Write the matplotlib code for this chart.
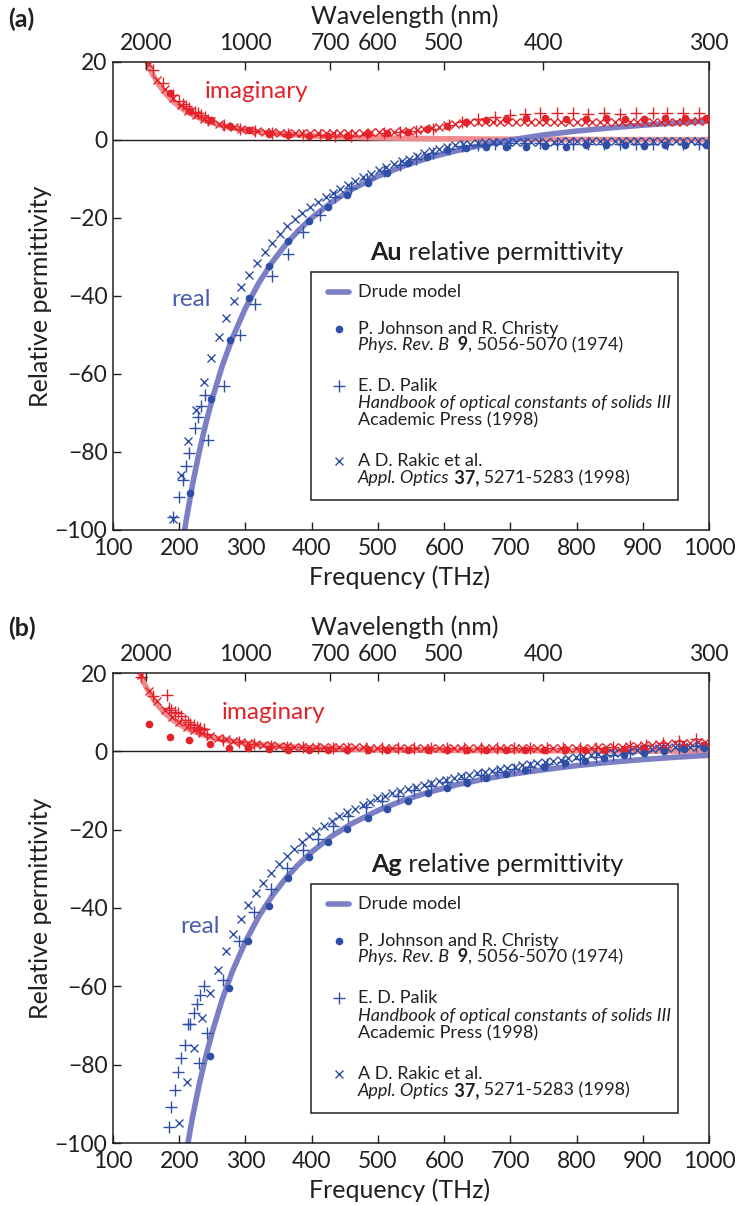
import matplotlib
matplotlib.use("Agg")
import matplotlib.pyplot as plt
import matplotlib.patches as patches

plt.rcParams['font.family'] = ['Lato', 'DejaVu Sans']

# -------------------------
# Data (frequency in THz, relative permittivity)
# -------------------------
drude_f = [140, 150, 160, 170, 180, 190, 200, 210, 220, 230, 240, 250, 265, 280, 300, 320, 340,
           360, 380, 400, 430, 460, 500, 540, 580, 620, 660, 700, 750, 800, 850, 900, 950, 1000]

# Au
au_drude_re = [-233, -201, -176, -155, -137, -122, -109, -98.0, -88.4, -80.1, -72.8, -66.3, -57.9,
               -50.9, -43.1, -36.7, -31.4, -27.0, -23.2, -20.0, -16.0, -12.7, -9.3, -6.6, -4.4,
               -2.7, -1.2, 0.0, 1.3, 2.3, 3.1, 3.8, 4.4, 4.9]
au_drude_im = [25.1, 20.4, 16.8, 14.0, 11.8, 10.0, 8.6, 7.4, 6.5, 5.7, 5.0, 4.4, 3.7, 3.1, 2.55,
               2.1, 1.75, 1.48, 1.26, 1.08, 0.87, 0.71, 0.55, 0.44, 0.35, 0.29, 0.24, 0.20, 0.16,
               0.13, 0.11, 0.09, 0.08, 0.07]

au_jc_f = [186, 216, 248, 277, 305, 336, 365, 396, 425, 454, 485, 514, 545, 574, 604, 633, 664,
           694, 723, 752, 784, 814, 844, 873, 902, 934, 964, 995]
au_jc_re = [-125, -90.4, -66.5, -51.2, -40.4, -32.3, -26.0, -20.8, -17.1, -14.0, -11.0, -8.4, -6.0,
            -4.3, -2.6, -2.0, -1.8, -1.8, -1.9, -1.6, -1.7, -1.4, -1.2, -1.2, -1.5, -1.2, -1.2, -1.4]
au_jc_im = [12.0, 7.5, 5.2, 3.6, 2.6, 1.6, 1.4, 1.0, 0.9, 0.9, 1.5, 1.9, 2.1, 2.7, 3.7, 4.6, 5.1,
            5.4, 5.6, 5.6, 5.4, 5.4, 5.6, 5.4, 5.4, 5.6, 5.6, 5.6]

au_pa_f = [160, 175, 190, 200, 205, 210, 215, 224, 229, 233, 239, 243, 267, 292, 315, 340, 365,
           387, 412, 435, 460, 484, 509, 534, 558, 583, 607, 627, 651, 677, 700, 722, 745, 770,
           795, 817, 842, 865, 890, 915, 937, 960, 985]
au_pa_re = [-140, -115, -96.7, -91.6, -87.3, -83.7, -80.2, -73.9, -71.0, -68.2, -65.4, -76.9, -63.0,
            -50.1, -42.0, -34.8, -29.3, -23.7, -19.2, -14.6, -12.2, -10.0, -8.0, -6.3, -4.8, -3.4,
            -2.3, -1.6, -1.2, -0.9, -0.8, -0.8, -0.8, -0.9, -0.9, -0.9, -0.9, -0.9, -0.9, -0.9,
            -0.9, -0.9, -0.9]
au_pa_im = [18.0, 14.5, 11.5, 10.0, 9.3, 8.7, 8.1, 7.2, 6.8, 6.4, 6.0, 5.2, 3.8, 2.8, 2.2, 1.8, 1.5,
            1.3, 1.2, 1.1, 1.1, 1.3, 1.7, 2.0, 2.3, 2.8, 3.8, 4.6, 5.3, 5.8, 6.4, 6.7, 6.9, 6.8,
            6.8, 6.7, 6.8, 6.7, 6.8, 6.8, 6.8, 6.8, 6.8]

au_rk_f = [154, 166, 178, 190, 202, 214, 226, 237, 248, 260, 271, 283, 294, 306, 317, 329, 340,
           352, 363, 375, 386, 397, 409, 421, 432, 443, 455, 466, 478, 490, 501, 513, 524, 536,
           547, 559, 570, 582, 593, 605, 616, 628, 639, 651, 662, 674, 685, 697, 708, 720, 731,
           743, 754, 766, 777, 789, 800, 812, 823, 835, 846, 858, 869, 881, 892, 904, 915, 927,
           938, 950, 961, 973, 984, 996]
au_rk_re = [-150, -125, -108, -97.1, -86.0, -77.1, -69.3, -62.0, -55.8, -50.4,
            -45.6, -41.4, -37.8, -34.5, -31.5, -28.8, -26.4, -24.2, -22.1, -20.3,
            -18.7, -17.2, -15.8, -14.6, -13.7, -12.6, -11.6, -10.6, -9.6, -8.7,
            -7.8, -7.0, -6.2, -5.5, -4.8, -4.1, -3.4, -2.8, -2.3, -1.8,
            -1.4, -1.1, -0.9, -0.7, -0.6, -0.5, -0.5, -0.5, -0.4, -0.4,
            -0.4, -0.4, -0.4, -0.4, -0.3, -0.3, -0.3, -0.3, -0.3, -0.3,
            -0.3, -0.3, -0.3, -0.3, -0.3, -0.3, -0.3, -0.3, -0.3, -0.3,
            -0.3, -0.3, -0.3, -0.3]
au_rk_im = [19.5, 15.5, 13.0, 10.8, 9.0, 7.5, 6.4, 5.5, 4.8, 4.2,
            3.7, 3.3, 2.9, 2.6, 2.3, 2.1, 2.0, 1.9, 1.9, 1.8,
            1.8, 1.8, 1.8, 1.8, 1.8, 1.8, 1.8, 1.9, 1.9, 2.0,
            2.0, 2.1, 2.1, 2.2, 2.3, 2.5, 2.7, 3.0, 3.4, 3.8,
            4.0, 4.3, 4.5, 4.6, 4.6, 4.6, 4.6, 4.6, 4.6, 4.6,
            4.6, 4.6, 4.6, 4.6, 4.6, 4.6, 4.6, 4.6, 4.6, 4.6,
            4.7, 4.7, 4.7, 4.7, 4.7, 4.7, 4.7, 4.7, 4.7, 4.7,
            4.7, 4.8, 4.8, 4.8]

# Ag
ag_drude_re = [-236, -205, -180, -159, -141.5, -126.6, -113.9, -103.0, -93.5, -85.2, -78.0, -71.6,
               -63.3, -56.3, -48.6, -42.2, -37.0, -32.6, -28.9, -25.7, -21.7, -18.5, -15.1, -12.4,
               -10.3, -8.5, -7.1, -5.9, -4.7, -3.65, -2.8, -2.1, -1.5, -1.0]
ag_drude_im = [20.2, 16.4, 13.6, 11.3, 9.5, 8.1, 6.9, 6.0, 5.2, 4.6, 4.0, 3.55, 2.98, 2.53, 2.06,
               1.69, 1.41, 1.19, 1.01, 0.87, 0.70, 0.57, 0.44, 0.35, 0.28, 0.23, 0.19, 0.16, 0.13,
               0.11, 0.09, 0.08, 0.06, 0.06]

ag_jc_f = [155, 186, 215, 246, 275, 304, 336, 364, 396, 425, 453, 485, 514, 545, 575, 604, 634,
           663, 694, 722, 751, 782, 812, 842, 872, 902, 932, 962, 993]
ag_jc_re = [-200, -135, -103, -77.7, -60.4, -48.5, -39.5, -32.4, -27.1, -23.1, -19.8, -17.0, -14.6,
            -12.6, -10.7, -9.3, -8.0, -6.7, -5.7, -4.8, -3.9, -3.1, -2.5, -1.6, -1.0, -0.4, 0.1,
            0.5, 0.9]
ag_jc_im = [6.9, 3.7, 2.9, 1.8, 0.9, 0.8, 0.5, 0.3, 0.3, 0.3, 0.3, 0.3, 0.3, 0.3, 0.3, 0.3, 0.3,
            0.3, 0.3, 0.3, 0.3, 0.3, 0.3, 0.3, 0.4, 0.5, 0.7, 1.0, 1.5]

ag_pa_f = [142, 160, 181, 184, 188, 193, 198, 202, 208, 213, 216, 222, 227, 230, 231, 237, 242,
           266, 290, 313, 338, 362, 387, 410, 432, 455, 482, 506, 530, 555, 580, 605, 630, 655,
           680, 705, 730, 755, 780, 805, 830, 855, 880, 905, 930, 955, 980]
ag_pa_re = [-230, -180, -115, -96.0, -90.9, -86.4, -81.8, -78.4, -75.0, -69.7,
            -69.7, -66.8, -64.4, -79.6, -62.3, -60.0, -71.8, -58.4, -48.5, -40.9,
            -35.1, -29.9, -25.2, -22.4, -19.0, -16.5, -14.3, -12.8, -11.3, -10.0,
            -8.9, -7.9, -7.0, -6.1, -5.3, -4.6, -3.9, -3.2, -2.6, -2.0,
            -1.4, -0.9, -0.4, 0.1, 0.5, 0.9, 1.3]
ag_pa_im = [19.0, 14.0, 14.5, 11.0, 10.5, 10.0, 9.7, 9.0, 8.0, 7.5,
            7.0, 6.7, 6.1, 5.5, 6.0, 5.8, 4.5, 3.0, 2.3, 1.8,
            1.4, 1.2, 1.0, 0.9, 0.8, 0.8, 0.8, 0.8, 0.8, 0.8,
            0.8, 0.8, 0.8, 0.8, 0.8, 0.8, 0.8, 0.8, 0.8, 0.8,
            0.9, 1.0, 1.3, 1.7, 2.1, 2.6, 3.2]

ag_rk_f = [143, 155, 166, 178, 189, 200, 212, 223, 235, 247, 258, 270, 281, 293, 304, 316, 327,
           339, 350, 362, 373, 385, 396, 407, 419, 431, 442, 454, 465, 477, 488, 499, 511, 522,
           534, 546, 557, 569, 580, 592, 603, 615, 626, 638, 649, 661, 672, 684, 695, 707, 718,
           730, 741, 753, 764, 776, 787, 799, 810, 822, 833, 845, 856, 868, 879, 891, 902, 914,
           925, 937, 948, 960, 971, 983, 994]
ag_rk_re = [-215, -180, -150, -127, -109, -95.0, -84.5, -75.7, -68.0, -61.7,
            -55.9, -51.0, -46.6, -42.7, -39.2, -36.2, -33.5, -31.1, -28.8, -26.8,
            -24.9, -23.2, -21.7, -20.3, -19.0, -17.7, -16.6, -15.6, -14.8, -13.7,
            -12.9, -12.0, -11.4, -10.7, -10.1, -9.5, -9.0, -8.5, -8.0, -7.6,
            -7.2, -6.8, -6.4, -6.0, -5.6, -5.3, -4.9, -4.6, -4.3, -3.9,
            -3.6, -3.3, -3.0, -2.7, -2.4, -2.1, -1.8, -1.5, -1.3, -1.0,
            -0.8, -0.5, -0.3, -0.1, 0.1, 0.3, 0.5, 0.6, 0.8, 0.9,
            1.0, 1.1, 1.2, 1.3, 1.4]
ag_rk_im = [19.5, 15.5, 12.8, 10.5, 8.8, 7.5, 6.3, 5.4, 4.6, 4.0,
            3.5, 3.1, 2.7, 2.4, 2.1, 1.9, 1.7, 1.5, 1.4, 1.3,
            1.2, 1.2, 1.1, 1.1, 1.0, 1.0, 1.0, 1.0, 1.0, 1.0,
            0.9, 0.9, 0.9, 0.9, 0.9, 0.9, 0.9, 0.9, 0.9, 0.9,
            0.9, 0.9, 0.9, 0.9, 0.9, 0.9, 0.9, 0.9, 0.9, 0.9,
            0.9, 0.9, 0.9, 0.9, 0.9, 0.9, 0.9, 0.9, 0.9, 0.9,
            1.0, 1.0, 1.1, 1.2, 1.3, 1.4, 1.5, 1.6, 1.8, 1.9,
            2.0, 2.1, 2.2, 2.3, 2.4]

wl_ticks = [2000, 1000, 700, 600, 500, 400, 300]  # nm
freq_ticks = [100, 200, 300, 400, 500, 600, 700, 800, 900, 1000]
eps_ticks = [-100, -80, -60, -40, -20, 0, 20]

C_NM_THZ = 299792.458

BLUE = '#2f4ea6'
RED = '#e42229'
DRUDE_RE = '#7b7fc4'
DRUDE_IM = '#f08c8e'
INK = '#231f20'


def mixed_line(ax, x, y, pieces, size):
    # pieces: list of (text, style, weight); each one starts where the last ended
    s, st, wt = pieces[0]
    t = ax.text(x, y, s, transform=ax.transAxes, ha='left', va='center', fontsize=size,
                style=st, weight=wt, color=INK)
    for s, st, wt in pieces[1:]:
        t = ax.annotate(s, xy=(1, 0), xycoords=t, ha='left', va='bottom', fontsize=size,
                        style=st, weight=wt, color=INK)


def draw_panel(ax, metal, dre, dim, jc, pa, rk, imag_xy, real_xy):
    ax.axhline(0, color=INK, lw=1.0, zorder=1)
    ax.plot(drude_f, dim, color=DRUDE_IM, lw=4, zorder=2, solid_capstyle='butt')
    ax.plot(drude_f, dre, color=DRUDE_RE, lw=4, zorder=2, solid_capstyle='butt')

    f, re, im = rk
    ax.plot(f, im, 'x', color=RED, ms=6, mew=1.0, zorder=3)
    ax.plot(f, re, 'x', color=BLUE, ms=6, mew=1.0, zorder=3)
    f, re, im = pa
    ax.plot(f, im, '+', color=RED, ms=8.5, mew=1.0, zorder=3)
    ax.plot(f, re, '+', color=BLUE, ms=8.5, mew=1.0, zorder=3)
    f, re, im = jc
    ax.plot(f, im, 'o', color=RED, ms=5.5, mew=0, zorder=4)
    ax.plot(f, re, 'o', color=BLUE, ms=5.5, mew=0, zorder=4)

    ax.set_xlim(100, 1000)
    ax.set_ylim(-100, 20)
    ax.set_xticks(freq_ticks)
    ax.set_yticks(eps_ticks)
    ax.tick_params(direction='in', length=6, width=1, labelsize=16.5, colors=INK,
                   top=False, right=False, pad=6)
    ax.tick_params(axis='y', pad=4)
    for s in ax.spines.values():
        s.set_linewidth(1.1)
        s.set_color(INK)

    top = ax.twiny()
    top.set_xlim(100, 1000)
    top.set_xticks([C_NM_THZ / w for w in wl_ticks])
    top.set_xticklabels([str(w) for w in wl_ticks])
    top.tick_params(direction='in', length=6, width=1, labelsize=16.5, colors=INK, pad=6)
    for s in top.spines.values():
        s.set_visible(False)

    ax.text(0.49, 1.098, 'Wavelength (nm)', transform=ax.transAxes, ha='center', va='center',
            fontsize=18, color=INK)
    ax.text(0.48, -0.10, 'Frequency (THz)', transform=ax.transAxes, ha='center', va='center',
            fontsize=18, color=INK)
    ax.text(-0.121, 0.5, 'Relative permittivity', transform=ax.transAxes, ha='center',
            va='center', rotation=90, fontsize=18, color=INK)

    ax.text(imag_xy[0], imag_xy[1], 'imaginary', color=RED, fontsize=17.5, ha='center',
            va='center')
    ax.text(real_xy[0], real_xy[1], 'real', color='#4a5db0', fontsize=17.5, ha='center',
            va='center')

    # title above the legend box: bold metal name + plain text
    ax.text(0.485, 0.592, metal, transform=ax.transAxes, ha='right', va='center', fontsize=18,
            weight='bold', color=INK)
    ax.text(0.485, 0.592, ' relative permittivity', transform=ax.transAxes, ha='left',
            va='center', fontsize=18, color=INK)

    # hand-made legend box
    ax.add_patch(patches.Rectangle((0.332, 0.064), 0.616, 0.487, transform=ax.transAxes,
                                   fill=False, ec=INK, lw=1.1, zorder=5))
    sx, tx = 0.379, 0.411
    ax.plot([0.361, 0.396], [0.509, 0.509], transform=ax.transAxes, color=DRUDE_RE, lw=4,
            solid_capstyle='round', zorder=5)
    ax.plot([sx], [0.429], 'o', transform=ax.transAxes, color=BLUE, ms=5.5, mew=0, zorder=5)
    ax.plot([sx], [0.308], '+', transform=ax.transAxes, color=BLUE, ms=8.5, mew=1.0, zorder=5)
    ax.plot([sx], [0.147], 'x', transform=ax.transAxes, color=BLUE, ms=6, mew=1.0, zorder=5)
    lkw = dict(transform=ax.transAxes, ha='left', va='center', fontsize=13, color=INK)
    ax.text(tx, 0.509, 'Drude model', **lkw)
    ax.text(tx, 0.429, 'P. Johnson and R. Christy', **lkw)
    mixed_line(ax, tx, 0.395, [('Phys. Rev. B', 'italic', 'normal'),
                               ('  9', 'normal', 'bold'),
                               (', 5056-5070 (1974)', 'normal', 'normal')], 13)
    ax.text(tx, 0.308, 'E. D. Palik', **lkw)
    ax.text(tx, 0.271, 'Handbook of optical constants of solids III', style='italic', **lkw)
    ax.text(tx, 0.234, 'Academic Press (1998)', **lkw)
    ax.text(tx, 0.147, 'A D. Rakic et al.', **lkw)
    mixed_line(ax, tx, 0.111, [('Appl. Optics', 'italic', 'normal'),
                               (' 37,', 'normal', 'bold'),
                               (' 5271-5283 (1998)', 'normal', 'normal')], 13)


fig = plt.figure(figsize=(7.41, 12.05), dpi=100)
ax_a = fig.add_axes([113 / 741, 1 - 530 / 1205, 596 / 741, 468 / 1205])
ax_b = fig.add_axes([113 / 741, 1 - 1143 / 1205, 596 / 741, 470 / 1205])

draw_panel(ax_a, 'Au', au_drude_re, au_drude_im,
           (au_jc_f, au_jc_re, au_jc_im), (au_pa_f, au_pa_re, au_pa_im),
           (au_rk_f, au_rk_re, au_rk_im), (316, 12.5), (218, -41))
draw_panel(ax_b, 'Ag', ag_drude_re, ag_drude_im,
           (ag_jc_f, ag_jc_re, ag_jc_im), (ag_pa_f, ag_pa_re, ag_pa_im),
           (ag_rk_f, ag_rk_re, ag_rk_im), (343, 10), (231, -44.6))

fig.text(8 / 741, 1 - 19 / 1205, '(a)', fontsize=18, fontweight='bold', ha='left', va='center',
         color=INK)
fig.text(8 / 741, 1 - 628 / 1205, '(b)', fontsize=18, fontweight='bold', ha='left', va='center',
         color=INK)

fig.savefig('out.png', dpi=100)
